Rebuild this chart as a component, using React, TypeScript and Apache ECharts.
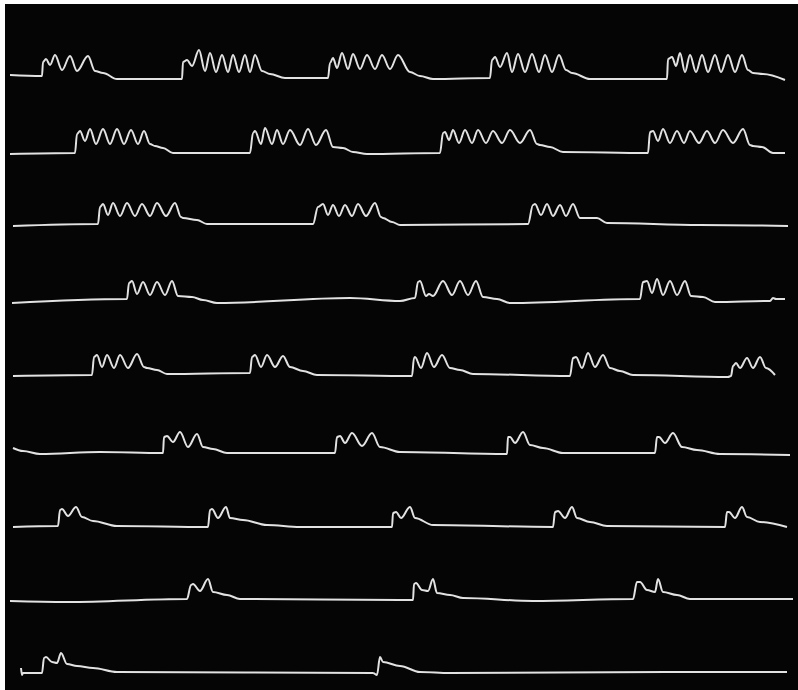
import React, { useEffect, useRef } from "react";
import * as echarts from "echarts";

// Each trace: [x, y] positions (x: 0-798, y: 0-690 downward)
const row1: number[][] = [[10,75],[42,76],[43,62],[46,59],[50,65],[55,55],[62,70],[70,56],[77,71],[88,56],[95,71],[103,73],[117,79],[182,79],[183,62],[187,60],[192,66],[199,50],[205,71],[210,53],[216,72],[222,55],[228,72],[233,55],[239,72],[245,55],[250,72],[255,55],[262,71],[270,74],[285,78],[328,78],[330,63],[333,58],[337,68],[342,53],[348,69],[353,54],[360,69],[367,55],[375,69],[382,55],[390,69],[398,55],[410,72],[420,76],[433,79],[490,78],[492,60],[495,57],[500,67],[507,53],[512,72],[518,54],[525,72],[532,54],[539,72],[545,55],[552,72],[559,55],[566,70],[572,73],[590,79],[667,79],[668,59],[672,57],[676,66],[680,53],[685,72],[690,55],[696,72],[702,55],[708,72],[715,55],[721,72],[728,55],[735,72],[742,55],[748,70],[753,73],[763,74],[785,80]];
const row2: number[][] = [[10,154],[75,153],[77,134],[80,131],[85,141],[90,129],[96,144],[103,129],[110,144],[117,129],[124,144],[131,130],[138,144],[144,131],[150,144],[155,146],[163,148],[173,153],[250,153],[253,133],[255,131],[261,144],[265,128],[272,144],[277,130],[283,144],[290,130],[300,145],[308,129],[316,145],[326,130],[333,147],[343,148],[353,152],[367,154],[440,153],[443,133],[445,132],[449,140],[453,130],[459,143],[465,130],[472,143],[478,130],[486,143],[493,131],[502,143],[510,130],[520,143],[530,130],[537,144],[540,145],[550,147],[563,152],[648,153],[650,132],[653,131],[658,141],[663,129],[670,143],[677,131],[684,143],[690,131],[699,143],[707,131],[715,143],[723,130],[733,143],[743,129],[750,145],[753,146],[762,147],[773,153],[785,153]];
const row3: number[][] = [[13,226],[98,224],[100,207],[103,204],[108,215],[113,203],[120,216],[127,203],[135,216],[142,204],[150,216],[157,203],[166,216],[175,203],[181,217],[183,218],[197,220],[207,224],[313,224],[318,207],[323,204],[328,215],[333,205],[339,216],[345,205],[352,216],[358,204],[366,216],[375,203],[381,217],[383,218],[392,222],[400,225],[528,224],[533,205],[535,204],[541,215],[547,204],[553,216],[560,205],[566,216],[573,204],[580,218],[597,218],[607,223],[700,225],[788,226]];
const row4: number[][] = [[12,303],[127,299],[129,283],[132,281],[137,294],[143,282],[150,295],[157,282],[165,295],[172,281],[178,296],[192,297],[203,300],[217,303],[350,298],[400,301],[415,298],[418,282],[420,281],[426,296],[429,294],[433,296],[443,281],[452,295],[460,281],[468,295],[476,281],[483,297],[497,299],[510,303],[640,299],[643,282],[647,281],[652,293],[657,279],[663,295],[670,281],[677,295],[685,281],[691,296],[703,297],[715,302],[770,301],[773,298],[776,299],[785,299]];
const row5: number[][] = [[13,376],[92,375],[94,357],[97,355],[102,367],[107,355],[114,368],[120,355],[128,368],[137,354],[144,367],[147,368],[157,370],[167,374],[250,373],[252,357],[255,355],[261,367],[267,355],[275,367],[283,356],[290,367],[303,371],[317,375],[412,376],[414,358],[415,357],[421,368],[427,353],[434,367],[442,355],[450,368],[460,370],[473,374],[570,376],[573,358],[576,357],[582,368],[588,353],[595,367],[603,355],[610,368],[620,371],[633,375],[728,377],[731,376],[733,366],[736,363],[740,368],[747,358],[753,368],[760,357],[766,368],[775,375]];
const row6: number[][] = [[13,448],[23,451],[40,454],[100,452],[163,453],[164,437],[167,436],[173,442],[180,432],[188,447],[197,434],[203,447],[213,449],[227,453],[335,453],[337,437],[340,436],[345,443],[352,433],[362,446],[372,433],[380,447],[400,452],[507,454],[508,437],[510,437],[515,443],[523,432],[530,445],[543,448],[563,453],[655,453],[657,437],[659,437],[665,443],[673,433],[682,447],[697,450],[720,454],[790,455]];
const row7: number[][] = [[13,527],[58,526],[60,510],[62,509],[68,516],[76,507],[82,517],[93,521],[117,526],[208,527],[210,510],[212,509],[218,518],[226,507],[230,518],[243,520],[267,525],[300,527],[392,527],[393,513],[396,512],[401,518],[410,507],[415,518],[433,525],[553,527],[555,512],[558,511],[565,518],[572,507],[577,518],[590,522],[607,526],[725,527],[727,512],[729,512],[735,518],[742,507],[747,517],[760,522],[787,527]];
const row8: number[][] = [[10,601],[67,602],[187,599],[191,585],[193,584],[200,591],[208,579],[213,592],[227,595],[240,599],[400,600],[413,600],[414,584],[416,583],[422,590],[428,591],[433,579],[437,593],[450,595],[463,598],[533,601],[633,599],[637,582],[640,582],[647,590],[655,592],[658,579],[663,592],[677,595],[690,599],[793,599]];
const row9: number[][] = [[21,668],[22,675],[23,673],[42,673],[44,658],[46,657],[52,662],[57,663],[61,653],[67,664],[77,666],[93,668],[117,672],[373,673],[377,675],[380,657],[383,662],[400,666],[420,672],[450,673],[667,672],[787,672]];

const rows = [row1, row2, row3, row4, row5, row6, row7, row8, row9];

export default function App() {
  const ref = useRef<HTMLDivElement>(null);
  useEffect(() => {
    if (!ref.current) return;
    const chart = echarts.init(ref.current, null, { renderer: "svg" });
    chart.setOption({
      animation: false,
      backgroundColor: "#ffffff",
      grid: { left: 0, right: 0, top: 0, bottom: 0 },
      xAxis: { type: "value", min: 0, max: 798, show: false },
      yAxis: { type: "value", min: 0, max: 690, inverse: true, show: false },
      graphic: [
        { type: "rect", z: 0, shape: { x: 5, y: 4, width: 793, height: 686 }, style: { fill: "#050505" } },
      ],
      series: rows.map((r, i) => ({
        type: "line",
        name: "trace" + (i + 1),
        data: r,
        symbol: "none",
        smooth: 0.35,
        smoothMonotone: "x",
        lineStyle: { color: "#e2e2e2", width: 2 },
        z: 5,
      })),
    });
    return () => chart.dispose();
  }, []);
  return <div ref={ref} style={{ position: "absolute", left: 0, top: 0, width: 798, height: 690 }} />;
}
